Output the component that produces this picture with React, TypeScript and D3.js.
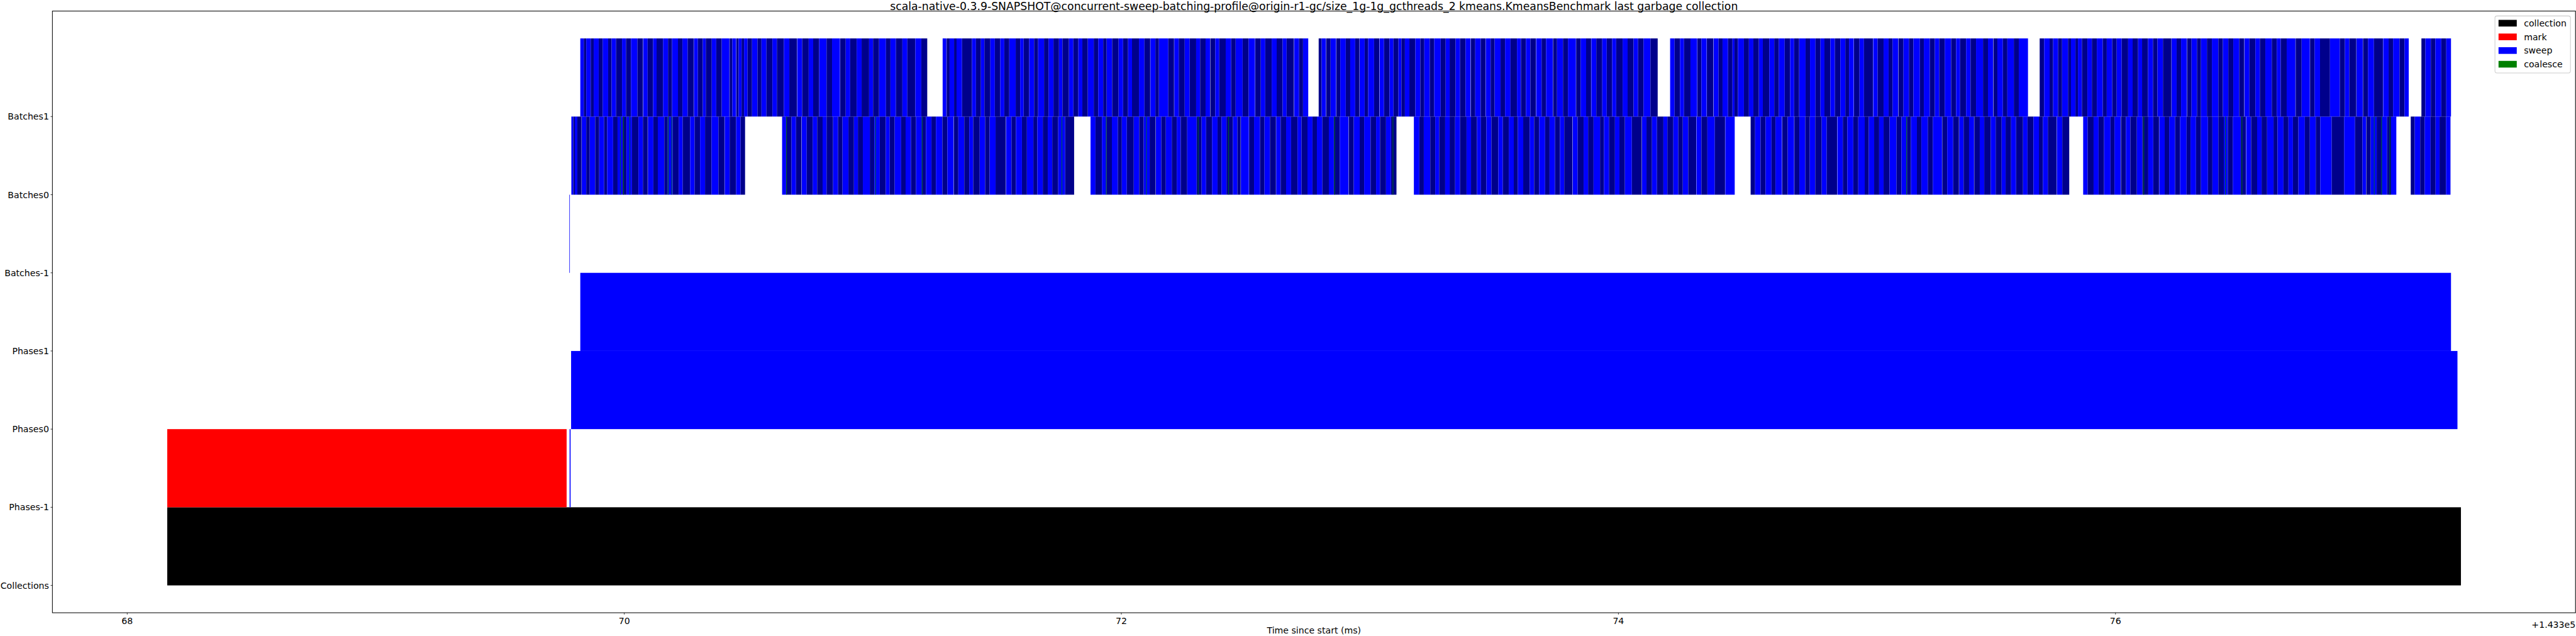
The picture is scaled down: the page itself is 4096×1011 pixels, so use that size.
import React, { Component } from "react";
import * as d3 from "d3";

const chartTitle = "scala-native-0.3.9-SNAPSHOT@concurrent-sweep-batching-profile@origin-r1-gc/size_1g-1g_gcthreads_2 kmeans.KmeansBenchmark last garbage collection";
const rowNames = ["Collections", "Phases-1", "Phases0", "Phases1", "Batches-1", "Batches0", "Batches1"];
const xTicks = [68, 70, 72, 74, 76];
const xOffsetLabel = "+1.433e5";
const xLabel = "Time since start (ms)";
const legendNames = ["collection", "mark", "sweep", "coalesce"];
const legendColors = ["#000000", "#ff0000", "#0000ff", "#008000"];

// all times in ms after 143300
const collectionBars = [[68.161, 77.390]];
const markBars = [[68.161, 69.768]];
const sweepPhasesMain = [[69.780, 69.784]];
const sweepPhases0 = [[69.786, 77.376]];
const sweepPhases1 = [[69.823, 77.350]];
const sweepBatchesMain = [[69.779, 69.781]];

// batches: [run start ms, batch lengths in microseconds]
const batches1Runs = [
  [69.823, [14, 10, 18, 12, 20, 16, 22, 14, 18, 24, 16, 20, 26, 22]],
  [70.076, [18, 22, 14, 26, 20, 16, 24, 18, 21, 24]],
  [70.280, [16, 20, 12, 24, 18, 22, 31]],
  [70.424, [11, 15]],
  [70.451, [9, 12, 10, 14, 18, 22, 16, 20, 24, 18, 28, 22, 31]],
  [70.696, [20, 26, 18, 24, 30, 22, 32]],
  [70.869, [22, 18, 26, 20, 30, 16, 24, 28, 18, 22, 26, 20, 32, 24, 24]],
  [71.281, [15]],
  [71.297, [12, 18, 10, 22, 40, 16, 20, 14, 24, 18, 22, 16, 20, 26, 18, 14, 22, 20, 16, 24, 18, 20, 22, 14, 26, 18, 20, 16, 22, 24, 18, 20, 14, 22, 26, 18, 20, 16, 28, 22, 23]],
  [72.117, [20, 14, 38, 23]],
  [72.213, [18, 24, 20, 26, 16, 22, 18]],
  [72.358, [20, 16, 26, 22, 18, 28, 24, 26]],
  [72.539, [22, 18, 26, 20, 24, 16, 29]],
  [72.695, [20, 16, 21]],
  [72.794, [12, 17]],
  [72.824, [18, 22]],
  [72.865, [16, 22, 18, 20, 17]],
  [72.959, [20, 14, 24, 21]],
  [73.039, [18, 22, 16, 20, 12, 14, 18, 24, 20, 16, 22, 18, 26, 20, 16, 24, 18, 22, 20]],
  [73.406, [18, 22, 19]],
  [73.466, [20, 16, 24, 18, 22, 26, 16, 20, 18, 22]],
  [73.669, [22, 18, 27]],
  [73.737, [16, 24, 20, 32]],
  [73.830, [18, 22, 20]],
  [73.891, [20, 24, 18, 22, 16, 26, 20, 24, 18, 22, 28, 29]],
  [74.208, [18, 22, 16, 26, 27]],
  [74.318, [16, 21]],
  [74.356, [26]],
  [74.383, [20, 16, 22, 18, 8, 14, 24, 20, 18, 22, 16, 26, 20, 18, 24, 22, 16, 20, 26, 18, 22, 20, 16, 24, 18, 22, 20, 15, 19]],
  [74.948, [22, 18, 36]],
  [75.025, [18, 24, 20, 16, 23]],
  [75.127, [20, 22, 18, 26, 16, 24, 20, 18, 22, 26, 20, 16, 24, 18, 22, 28, 20, 21]],
  [75.509, [16, 22, 18, 26, 20, 37]],
  [75.695, [18, 22, 14, 20, 16, 24, 12, 18, 10, 16, 22, 18, 20, 24, 16, 22, 18, 20, 26, 18, 22, 16, 24, 20, 18, 22, 34]],
  [76.226, [20, 18, 23]],
  [76.288, [18, 22, 16, 24, 20, 26, 18, 22, 20, 24, 20]],
  [76.519, [20, 24, 18, 22, 26, 20, 16, 24, 35]],
  [76.725, [24, 33]],
  [76.783, [18, 22, 40, 40, 20, 18, 28]],
  [76.970, [25]],
  [76.996, [20, 24, 36]],
  [77.077, [22, 18, 26, 20, 17]],
  [77.231, [16, 22, 18, 24, 20, 19]],
];

const batches0Runs = [
  [69.787, [8, 6, 10, 17]],
  [69.829, [18, 14, 22, 16, 20, 12, 24, 18, 20, 16, 22, 26, 18, 19]],
  [70.095, [22, 18, 26, 14, 20, 24, 16, 30, 18, 22, 20, 26, 28, 24]],
  [70.404, [20, 26, 18, 18]],
  [70.635, [16, 22, 18, 22]],
  [70.714, [20, 24, 18, 22, 16, 26, 20, 18, 24, 22, 16, 20, 28, 18, 22, 24, 16, 20, 26, 18, 22, 20, 24, 16, 22, 18, 26, 20, 25]],
  [71.326, [18, 24, 20, 16, 26, 22, 18, 24, 41]],
  [71.536, [22, 18, 24, 20, 26, 16, 22, 20, 18, 24, 28, 36]],
  [71.876, [20, 26, 18, 22, 24, 16, 20, 28, 22, 18, 24, 24]],
  [72.139, [22, 18, 24, 20, 16, 26, 38, 20, 18, 24, 22, 16, 20, 26, 18, 13]],
  [72.481, [32]],
  [72.514, [20, 24, 18, 22, 24]],
  [72.623, [18, 22, 20, 26, 16, 24, 20, 18, 22, 26, 20, 24, 35]],
  [72.915, [20, 24, 18, 26, 22, 16, 24, 20, 22]],
  [73.177, [22, 18, 26, 20, 16, 24, 18, 22, 20, 26, 18, 24, 16, 22, 20, 28, 18, 24, 20, 16, 22, 26, 18, 20, 24, 18, 22, 20, 17, 33]],
  [73.816, [20, 24, 18, 22, 26, 16, 20, 24, 18, 22, 28, 40]],
  [74.095, [18, 22, 20, 26, 16, 24, 20, 18, 22, 32]],
  [74.314, [20, 24, 30, 41]],
  [74.430, [38]],
  [74.532, [18, 22, 20, 24, 16, 26]],
  [74.659, [22, 26]],
  [74.708, [20, 24, 18, 22, 26, 20, 42]],
  [74.881, [22, 18, 24, 20, 26, 16, 22, 20, 18, 24, 28, 20, 22, 16, 24, 18, 26, 20, 37]],
  [75.303, [20, 24, 23]],
  [75.371, [18, 22, 20]],
  [75.432, [22, 18, 26, 20, 24, 16, 22, 20, 28, 18, 24, 22, 16, 20, 35]],
  [75.764, [22, 28]],
  [75.870, [18, 24, 20, 22, 26, 16, 25]],
  [76.022, [20, 18, 26, 22, 24, 20, 23]],
  [76.176, [22, 18, 24, 20, 26, 16, 22, 20, 28, 18, 24, 22, 16, 20, 32, 21]],
  [76.526, [20, 24, 18, 22, 26, 16, 24, 20, 18, 22, 26, 20, 24, 18, 46, 50, 44, 30, 14]],
  [77.009, [18, 24, 20, 22, 16, 21]],
  [77.188, [16, 22, 18, 24, 20, 16, 26, 18]],
];

const coalesceBatches0 = [69.983, 69.996, 70.021, 70.176, 70.190, 70.652, 71.010, 71.197, 71.760, 71.938, 72.100, 72.308, 72.431, 72.857, 73.092, 75.158, 76.113, 76.441, 76.508, 77.040, 77.070, 77.103];
const coalesceLength = 2; // microseconds

// turn runs into alternating batch bars
function runsToBars(runs) {
  const out = [];
  let k = 0;
  runs.forEach(([start, lens]) => {
    let t = start;
    lens.forEach(l => {
      out.push({ start: t, end: t + l / 1000, idx: k++ });
      t += l / 1000;
    });
  });
  return out;
}

class App extends Component {
  componentDidMount() {
    this.drawChart();
  }

  drawChart() {
    // reference is 7914 x 1953, everything drawn in that space then scaled
    const left = 161, right = 7912.5, top = 34, bottom = 1882;
    const fs = 27.3;
    const font = "DejaVu Sans";

    const xScale = d3.scaleLinear().domain([67.699, 77.851]).range([left, right]);
    const yScale = d3.scaleLinear().domain([-0.35, 7.35]).range([bottom, top]);

    const root = d3.select(".chart-root");
    root.selectAll("*").remove();

    const plot = root.append("g");
    const rowBars = (data, row, color, cls) => {
      plot.append("g").attr("class", cls).selectAll("rect").data(data).join("rect")
        .attr("x", d => xScale(d[0]))
        .attr("width", d => Math.max(0, xScale(d[1]) - xScale(d[0])))
        .attr("y", yScale(row + 1))
        .attr("height", yScale(row) - yScale(row + 1))
        .attr("fill", color);
    };

    rowBars(collectionBars, 0, "#000000", "collections");
    rowBars(markBars, 1, "#ff0000", "mark");
    rowBars(sweepPhasesMain, 1, "#0000ff", "sweep-main");
    rowBars(sweepPhases0, 2, "#0000ff", "sweep-p0");
    rowBars(sweepPhases1, 3, "#0000ff", "sweep-p1");
    rowBars(sweepBatchesMain, 4, "#0000ff", "sweep-bm");

    const batchRows = [[batches0Runs, 5], [batches1Runs, 6]];
    batchRows.forEach(([runs, row]) => {
      plot.append("g").selectAll("rect").data(runsToBars(runs)).join("rect")
        .attr("x", d => xScale(d.start))
        .attr("width", d => xScale(d.end) - xScale(d.start))
        .attr("y", yScale(row + 1))
        .attr("height", yScale(row) - yScale(row + 1))
        .attr("fill", d => d.idx % 2 === 0 ? "#0000ff" : "#00008b");
    });

    plot.append("g").selectAll("rect").data(coalesceBatches0).join("rect")
      .attr("x", d => xScale(d))
      .attr("width", xScale(coalesceLength / 1000) - xScale(0))
      .attr("y", yScale(6))
      .attr("height", yScale(5) - yScale(6))
      .attr("fill", "#008000");

    // frame
    root.append("rect")
      .attr("x", left).attr("y", top)
      .attr("width", right - left).attr("height", bottom - top)
      .attr("fill", "none").attr("stroke", "#000").attr("stroke-width", 2);

    // y axis
    const yAxis = root.append("g");
    rowNames.forEach((name, i) => {
      yAxis.append("line")
        .attr("x1", left - 5.5).attr("x2", left)
        .attr("y1", yScale(i)).attr("y2", yScale(i))
        .attr("stroke", "#000").attr("stroke-width", 1.5);
      yAxis.append("text")
        .attr("x", left - 10.5).attr("y", yScale(i)).attr("dy", "0.36em")
        .attr("text-anchor", "end")
        .style("font-family", font).style("font-size", fs + "px")
        .text(name);
    });

    // x axis
    const xAxis = root.append("g");
    xTicks.forEach(t => {
      xAxis.append("line")
        .attr("x1", xScale(t)).attr("x2", xScale(t))
        .attr("y1", bottom).attr("y2", bottom + 5.5)
        .attr("stroke", "#000").attr("stroke-width", 1.5);
      xAxis.append("text")
        .attr("x", xScale(t)).attr("y", 1916)
        .attr("text-anchor", "middle")
        .style("font-family", font).style("font-size", fs + "px")
        .text(t);
    });
    xAxis.append("text")
      .attr("x", right).attr("y", 1928)
      .attr("text-anchor", "end")
      .style("font-family", font).style("font-size", fs + "px")
      .text(xOffsetLabel);
    xAxis.append("text")
      .attr("x", (left + right) / 2).attr("y", 1946)
      .attr("text-anchor", "middle")
      .style("font-family", font).style("font-size", fs + "px")
      .text(xLabel);

    // title sits just above the frame
    root.append("text")
      .attr("x", (left + right) / 2).attr("y", 31)
      .attr("text-anchor", "middle")
      .style("font-family", font).style("font-size", "33.4px")
      .text(chartTitle);

    // legend
    const leg = root.append("g").attr("class", "leg");
    leg.append("rect")
      .attr("x", 7665).attr("y", 49).attr("width", 232).attr("height", 175).attr("rx", 6)
      .attr("fill", "#ffffff").attr("fill-opacity", 0.8)
      .attr("stroke", "#cccccc").attr("stroke-width", 2);
    leg.selectAll(".sw").data(legendNames).join("rect").attr("class", "sw")
      .attr("x", 7676).attr("y", (d, i) => 61 + i * 42)
      .attr("width", 56).attr("height", 20.5)
      .attr("fill", (d, i) => legendColors[i]);
    leg.selectAll(".lt").data(legendNames).join("text").attr("class", "lt")
      .attr("x", 7754).attr("y", (d, i) => 71 + i * 42).attr("dy", "0.36em")
      .style("font-family", font).style("font-size", fs + "px")
      .text(d => d);
  }

  render() {
    const s = 4096 / 7914;
    return (
      <svg width={4096} height={1011} style={{ position: "absolute", left: 0, top: 0, background: "#fff" }}>
        <rect width={4096} height={1011} fill="#fff" />
        <g className="chart-root" transform={`scale(${s})`}></g>
      </svg>
    );
  }
}

export default App;
